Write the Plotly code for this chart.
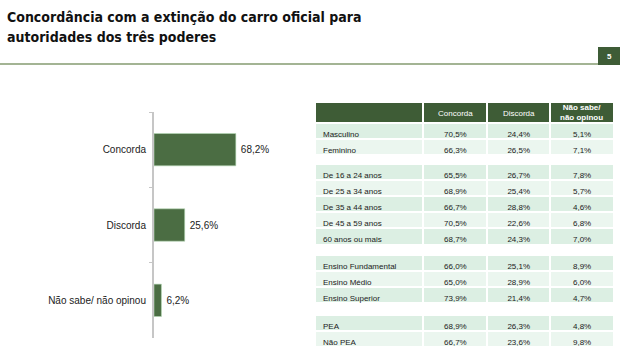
import plotly.graph_objects as go

W, H = 620, 350

# ---- data ----
answer_labels = ["Concorda", "Discorda", "Não sabe/ não opinou"]
answer_values = [68.2, 25.6, 6.2]

col_headers = ["", "Concorda", "Discorda", ""]
last_header = "Não sabe/<br>não opinou"

groups = [
    ["Masculino", "Feminino"],
    ["De 16 a 24 anos", "De 25 a 34 anos", "De 35 a 44 anos", "De 45 a 59 anos", "60 anos ou mais"],
    ["Ensino Fundamental", "Ensino Médio", "Ensino Superior"],
    ["PEA", "Não PEA"],
]
concorda = [
    ["70,5%", "66,3%"],
    ["65,5%", "68,9%", "66,7%", "70,5%", "68,7%"],
    ["66,0%", "65,0%", "73,9%"],
    ["68,9%", "66,7%"],
]
discorda = [
    ["24,4%", "26,5%"],
    ["26,7%", "25,4%", "28,8%", "22,6%", "24,3%"],
    ["25,1%", "28,9%", "21,4%"],
    ["26,3%", "23,6%"],
]
nao_sabe = [
    ["5,1%", "7,1%"],
    ["7,8%", "5,7%", "4,6%", "6,8%", "7,0%"],
    ["8,9%", "6,0%", "4,7%"],
    ["4,8%", "9,8%"],
]

title_lines = ["Concordância com a extinção do carro oficial para",
               "autoridades dos três poderes"]
page_number = "5"

# ---- styles ----
DARK = "#3e5c36"
BAR = "#4b6d43"
ROW_A = "#dcefe3"
ROW_B = "#ebf6ef"
FONT = "Liberation Sans, Arial, sans-serif"
TITLE_FONT = "Liberation Sans Narrow, Arial Narrow, DejaVu Sans Condensed, Liberation Sans, Arial, sans-serif"
ROW_H = 16.1
ALIGN = ["left", "center", "center", "center"]


def py(px):
    return 1 - px / H


def pxx(px):
    return px / W


fig = go.Figure()

fig.add_trace(go.Bar(
    x=answer_values,
    y=answer_labels,
    orientation="h",
    width=0.43,
    marker=dict(color=BAR, line=dict(color="#b8dcb8", width=0.6)),
    text=["\u2009" + f"{v:.1f}%".replace(".", ",") for v in answer_values],
    textposition="outside",
    textfont=dict(family=FONT, size=10, color="#222222"),
    cliponaxis=False,
    hoverinfo="skip",
))

# table groups
tops = [101.5, 164, 254.5, 314.5]
bottoms = [160, 252, 311, 350]
cell_line = dict(color="white", width=2)
for i, g in enumerate(groups):
    if i == 0:
        hdr = dict(values=col_headers, fill_color=DARK, line=cell_line,
                   font=dict(family=FONT, size=8, color="white"),
                   align="center", height=21)
        vals = [g, concorda[i], discorda[i], nao_sabe[i]]
        start = 0
    else:
        # first row of the group acts as the table's header row
        hdr = dict(values=[g[0], concorda[i][0], discorda[i][0], nao_sabe[i][0]],
                   fill_color=ROW_A, line=cell_line,
                   font=dict(family=FONT, size=8, color="#222222"),
                   align=ALIGN, height=ROW_H)
        vals = [g[1:], concorda[i][1:], discorda[i][1:], nao_sabe[i][1:]]
        start = 1
    m = len(vals[0])
    fills = [[ROW_A if (k + start) % 2 == 0 else ROW_B for k in range(m)]] * 4
    fig.add_trace(go.Table(
        domain=dict(x=[pxx(315), pxx(614)], y=[py(bottoms[i]), py(tops[i])]),
        columnwidth=[107, 63, 62, 63],
        header=hdr,
        cells=dict(values=vals, fill_color=fills, line=cell_line,
                   font=dict(family=FONT, size=8, color="#222222"),
                   align=ALIGN, height=ROW_H),
    ))

annotations = [
    dict(text="<b>" + t + "</b>", x=pxx(5), y=py(yy), xref="paper", yref="paper",
         xanchor="left", yanchor="middle", align="left", showarrow=False,
         font=dict(family=TITLE_FONT, size=14, color="#111111"))
    for t, yy in zip(title_lines, [17, 37])
]
annotations += [
    dict(text="<b>" + page_number + "</b>", x=pxx(609), y=py(56), xref="paper", yref="paper",
         xanchor="center", yanchor="middle", showarrow=False,
         font=dict(family=FONT, size=8, color="white")),
    dict(text="<b>" + last_header + "</b>", x=pxx(581.5), y=py(112), xref="paper", yref="paper",
         xanchor="center", yanchor="middle", showarrow=False,
         font=dict(family=FONT, size=8, color="white")),
]

fig.update_layout(
    width=W, height=H,
    margin=dict(l=0, r=0, t=0, b=0),
    paper_bgcolor="white", plot_bgcolor="white",
    showlegend=False,
    font=dict(family=FONT, color="#222222"),
    xaxis=dict(domain=[pxx(154), pxx(300)], range=[0, (300 - 154) / 1.2],
               visible=False, fixedrange=True),
    yaxis=dict(domain=[py(338), py(112)], autorange="reversed",
               type="category", showline=True, linecolor="#c6c6c6", linewidth=2,
               ticks="outside", tickson="boundaries", ticklen=3, tickcolor="#c6c6c6",
               tickwidth=1, showgrid=False, zeroline=False, ticklabelstandoff=4,
               tickfont=dict(family=FONT, size=10, color="#222222"),
               fixedrange=True),
    annotations=annotations,
    shapes=[
        dict(type="line", xref="paper", yref="paper", x0=0, x1=pxx(598), y0=py(64), y1=py(64),
             line=dict(color="#a3b494", width=2)),
        dict(type="rect", xref="paper", yref="paper", x0=pxx(598), x1=pxx(620), y0=py(65), y1=py(47),
             fillcolor=DARK, line=dict(width=0), layer="below"),
    ],
)

fig.write_html("out.html")
